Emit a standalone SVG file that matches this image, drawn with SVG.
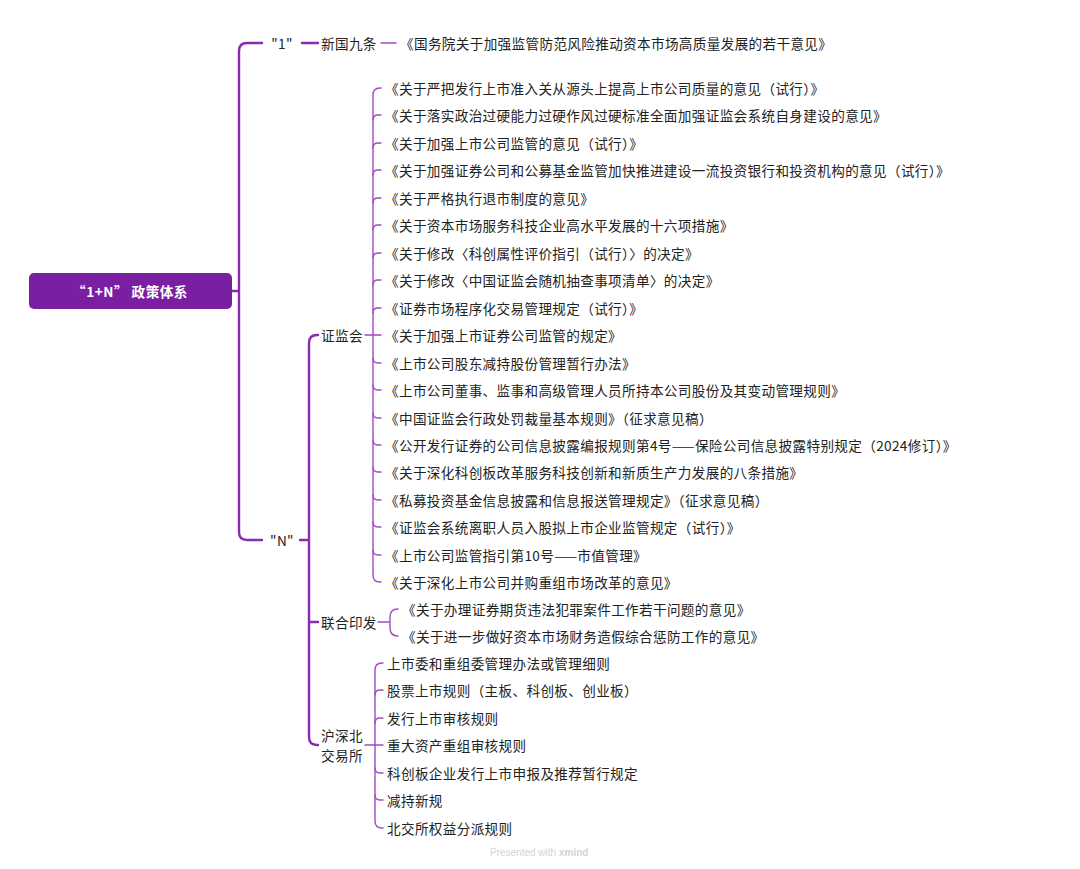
<svg xmlns="http://www.w3.org/2000/svg" width="1080" height="869" viewBox="0 0 1080 869">
<style>
.t{font-family:"Noto Sans CJK SC","Liberation Sans",sans-serif;font-size:13.6px;letter-spacing:0.35px;fill:#222;dominant-baseline:central}
.root{font-family:"Noto Sans CJK SC","Liberation Sans",sans-serif;font-size:13.6px;letter-spacing:0.5px;fill:#fff;font-weight:bold;dominant-baseline:central;text-anchor:middle}
.m{fill:none;stroke:#8a2bb0;stroke-width:2.4;stroke-linecap:round}
.c{fill:none;stroke:#a24ac4;stroke-width:1.4;stroke-linecap:round}
.wm{font-family:"Liberation Sans",sans-serif;font-size:10px;fill:#d4d4d4}
</style>
<rect width="1080" height="869" fill="#fff"/>
<g id="connectors">
<path class="m" d="M232,291 H239 M262,43 H247 Q239,43 239,51 V532 Q239,540 247,540 H262"/>
<path class="m" d="M302,43 H318"/>
<path class="c" d="M381,43 H396"/>
<path class="m" d="M300,540 H309 M318,335 H317 Q309,335 309,343 V737 Q309,745 317,745 H318 M309,622 H318"/>
<path class="c" d="M365,335 H381 M381,88 H380 Q373,88 373,95 V575 Q373,582 380,582 H381"/>
<path class="c" d="M373,120 Q373,115 378,115 H381 M373,148 Q373,143 378,143 H381 M373,175 Q373,170 378,170 H381 M373,203 Q373,198 378,198 H381 M373,230 Q373,225 378,225 H381 M373,258 Q373,253 378,253 H381 M373,285 Q373,280 378,280 H381 M373,313 Q373,308 378,308 H381 M373,358 Q373,363 378,363 H381 M373,385 Q373,390 378,390 H381 M373,413 Q373,418 378,418 H381 M373,440 Q373,445 378,445 H381 M373,467 Q373,472 378,472 H381 M373,495 Q373,500 378,500 H381 M373,522 Q373,527 378,527 H381 M373,550 Q373,555 378,555 H381"/>
<path class="c" d="M378,622 H390 M398,609 Q390,609 390,617 V628 Q390,636 398,636"/>
<path class="c" d="M365,745 H383 M383,663 H382 Q375,663 375,670 V821 Q375,828 382,828 H383"/>
<path class="c" d="M375,695 Q375,690 380,690 H383 M375,723 Q375,718 380,718 H383 M375,768 Q375,773 380,773 H383 M375,795 Q375,800 380,800 H383"/>
</g>
<g id="root"><rect x="29" y="273" width="203" height="36" rx="5" fill="#7b1fa2"/><text class="root" x="130" y="291">“1+N” 政策体系</text></g>
<g id="n1"><text class="t" x="282" y="43" text-anchor="middle">"1"</text></g>
<g id="nN"><text class="t" x="282" y="540" text-anchor="middle">"N"</text></g>
<g id="xgjt"><text class="t" x="321" y="43">新国九条</text></g>
<g id="gwy"><text class="t" x="400" y="43">《国务院关于加强监管防范风险推动资本市场高质量发展的若干意见》</text></g>
<g id="zjh"><text class="t" x="321" y="335">证监会</text></g>
<g id="zjh-items">
<text class="t" x="385" y="88">《关于严把发行上市准入关从源头上提高上市公司质量的意见（试行）》</text>
<text class="t" x="385" y="115">《关于落实政治过硬能力过硬作风过硬标准全面加强证监会系统自身建设的意见》</text>
<text class="t" x="385" y="143">《关于加强上市公司监管的意见（试行）》</text>
<text class="t" x="385" y="170">《关于加强证券公司和公募基金监管加快推进建设一流投资银行和投资机构的意见（试行）》</text>
<text class="t" x="385" y="198">《关于严格执行退市制度的意见》</text>
<text class="t" x="385" y="225">《关于资本市场服务科技企业高水平发展的十六项措施》</text>
<text class="t" x="385" y="253">《关于修改〈科创属性评价指引（试行）〉的决定》</text>
<text class="t" x="385" y="280">《关于修改〈中国证监会随机抽查事项清单〉的决定》</text>
<text class="t" x="385" y="308">《证券市场程序化交易管理规定（试行）》</text>
<text class="t" x="385" y="335">《关于加强上市证券公司监管的规定》</text>
<text class="t" x="385" y="363">《上市公司股东减持股份管理暂行办法》</text>
<text class="t" x="385" y="390">《上市公司董事、监事和高级管理人员所持本公司股份及其变动管理规则》</text>
<text class="t" x="385" y="418">《中国证监会行政处罚裁量基本规则》（征求意见稿）</text>
<text class="t" x="385" y="445">《公开发行证券的公司信息披露编报规则第4号——保险公司信息披露特别规定（2024修订）》</text>
<text class="t" x="385" y="472">《关于深化科创板改革服务科技创新和新质生产力发展的八条措施》</text>
<text class="t" x="385" y="500">《私募投资基金信息披露和信息报送管理规定》（征求意见稿）</text>
<text class="t" x="385" y="527">《证监会系统离职人员入股拟上市企业监管规定（试行）》</text>
<text class="t" x="385" y="555">《上市公司监管指引第10号——市值管理》</text>
<text class="t" x="385" y="582">《关于深化上市公司并购重组市场改革的意见》</text>
</g>
<g id="lhyf"><text class="t" x="321" y="622">联合印发</text></g>
<g id="lhyf-items">
<text class="t" x="402" y="609">《关于办理证券期货违法犯罪案件工作若干问题的意见》</text>
<text class="t" x="402" y="636">《关于进一步做好资本市场财务造假综合惩防工作的意见》</text>
</g>
<g id="jys"><text class="t" x="321" y="735">沪深北</text><text class="t" x="321" y="755">交易所</text></g>
<g id="jys-items">
<text class="t" x="387" y="663">上市委和重组委管理办法或管理细则</text>
<text class="t" x="387" y="690">股票上市规则（主板、科创板、创业板）</text>
<text class="t" x="387" y="718">发行上市审核规则</text>
<text class="t" x="387" y="745">重大资产重组审核规则</text>
<text class="t" x="387" y="773">科创板企业发行上市申报及推荐暂行规定</text>
<text class="t" x="387" y="800">减持新规</text>
<text class="t" x="387" y="828">北交所权益分派规则</text>
</g>
<text class="wm" x="490" y="856">Presented with <tspan font-weight="bold">xmind</tspan></text>
</svg>
